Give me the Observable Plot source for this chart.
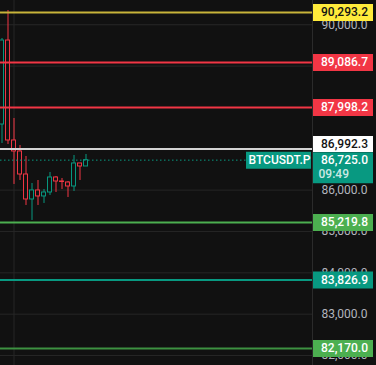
<!DOCTYPE html>
<html><head><meta charset="utf-8">
<script src="https://cdn.jsdelivr.net/npm/d3@7"></script>
<script src="https://cdn.jsdelivr.net/npm/@observablehq/plot@0.6"></script>
<style>html,body{margin:0;padding:0;background:#111111;overflow:hidden}</style>
</head><body><div id="chart"></div>
<script>
// ---- data ----
const opens  = [87587, 89618, 87201, 86935, 86378, 85774, 85992, 85847, 85943, 86306, 86209, 86185, 86088, 86645, 86572];
const highs  = [89667, 90344, 87733, 87080, 86814, 86161, 86233, 86016, 86427, 86330, 86282, 86209, 86838, 86645, 86862];
const lows   = [87128, 87104, 86137, 86233, 85629, 85266, 85629, 85677, 85871, 85943, 86016, 85822, 85968, 86233, 86572];
const closes = [89618, 87201, 86935, 86378, 85774, 85992, 85847, 85943, 86306, 86209, 86197, 86088, 86645, 86572, 86725];

const levelPrices = [90293.2, 89086.7, 87998.2, 86992.3, 85219.8, 83826.9, 82170.0];
const gridValues = [82000, 83000, 84000, 85000, 86000, 87000, 88000, 89000, 90000];
// tick labels that are not fully covered by a level box
const tickLabels = [82000, 83000, 84000, 85000, 86000, 90000];
const symbol = "BTCUSDT.P";
const lastPrice = 86725.0;
const countdown = "09:49";
const timeGrid = [2];

// ---- styles ----
const BG = "#111111";
const UP = "#089981", DOWN = "#f23645";
const lineColors = ["#c8b43a", "#f23645", "#f23645", "#d4d4d4", "#4caf50", "#089981", "#3d9141"];
const boxColors  = ["#ffeb3b", "#f23645", "#f23645", "#ffffff", "#4caf50", "#089981", "#4caf50"];
const textColors = ["#131313", "#ffffff", "#ffffff", "#131313", "#ffffff", "#ffffff", "#ffffff"];

const candles = opens.map((o, i) => ({i, open: o, high: highs[i], low: lows[i], close: closes[i]}));
const levels = levelPrices.map((p, k) => ({price: p, k}));
const fmt = d3.format(",.1f");

const mainLevels = levels.filter(d => d.k !== 3);
const shiftedLevels = levels.filter(d => d.k === 3);

const chart = Plot.plot({
  width: 376, height: 365,
  marginLeft: 0, marginTop: 0, marginBottom: 0, marginRight: 64,
  style: {background: BG, color: "#b2b5be", fontFamily: "Roboto, 'Liberation Sans', sans-serif", fontSize: "12px"},
  x: {domain: [-0.25, 51.75], axis: null},
  y: {domain: [81758.8, 90586.1], axis: null},
  marks: [
    Plot.gridY(gridValues, {stroke: "#262626", strokeOpacity: 1}),
    Plot.gridX(timeGrid, {stroke: "#262626", strokeOpacity: 1}),
    Plot.axisY(tickLabels, {anchor: "right", tickSize: 0, tickPadding: 9, tickFormat: fmt, label: null, fill: "#b2b5be"}),
    Plot.ruleX([51.75], {stroke: "#2b2b2b"}),
    // wicks
    Plot.ruleX(candles, {x: "i", y1: "low", y2: "high", stroke: d => d.close >= d.open ? UP : DOWN, strokeWidth: 1}),
    // hollow bodies
    Plot.rect(candles, {x1: d => d.i - 0.33, x2: d => d.i + 0.33, y1: "open", y2: "close",
      fill: BG, stroke: d => d.close >= d.open ? UP : DOWN, strokeWidth: 1}),
    // level lines
    Plot.ruleY(levels, {y: "price", stroke: d => lineColors[d.k], strokeWidth: 2}),
    // current price dotted line
    Plot.ruleY([lastPrice], {stroke: UP, strokeDasharray: "1.5,2.5", strokeWidth: 1, insetRight: 66}),
    // symbol label
    Plot.ruleY([lastPrice], {stroke: UP, strokeWidth: 17, insetLeft: 246, insetRight: 1}),
    Plot.text([lastPrice], {y: d => d, text: () => symbol, frameAnchor: "right", dx: -33, textAnchor: "middle", fill: "#ffffff", fontWeight: 500}),
    // level boxes
    Plot.ruleY(mainLevels, {y: "price", stroke: d => boxColors[d.k], strokeWidth: 17, insetLeft: 313, insetRight: -61}),
    Plot.text(mainLevels, {y: "price", text: d => fmt(d.price), fill: d => textColors[d.k], frameAnchor: "right", dx: 32, textAnchor: "middle", fontWeight: 500}),
    Plot.ruleY(shiftedLevels, {y: "price", dy: -5, stroke: d => boxColors[d.k], strokeWidth: 16, insetLeft: 313, insetRight: -61}),
    Plot.text(shiftedLevels, {y: "price", dy: -5, text: d => fmt(d.price), fill: d => textColors[d.k], frameAnchor: "right", dx: 32, textAnchor: "middle", fontWeight: 500}),
    // current price box
    Plot.ruleY([lastPrice], {y: d => d, dy: 7.5, stroke: UP, strokeWidth: 31, insetLeft: 313, insetRight: -61}),
    Plot.text([lastPrice], {y: d => d, text: d => fmt(d), fill: "#ffffff", frameAnchor: "right", dx: 32, textAnchor: "middle", fontWeight: 500}),
    Plot.text([lastPrice], {y: d => d, dy: 14, text: () => countdown, fill: "#ffffff", fillOpacity: 0.8, frameAnchor: "right", dx: 6, textAnchor: "start", fontWeight: 500})
  ]
});
document.getElementById("chart").appendChild(chart);
</script>
</body></html>
